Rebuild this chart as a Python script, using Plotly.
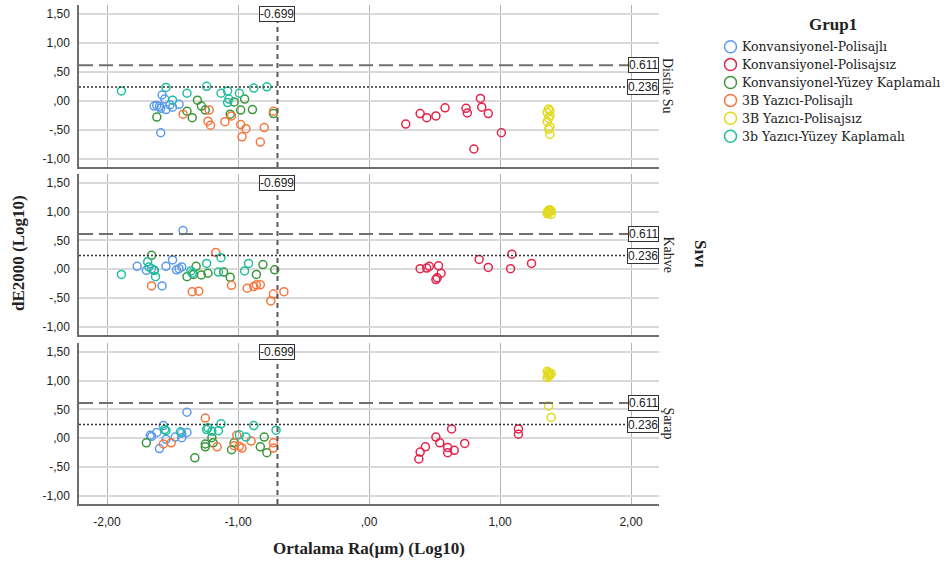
import plotly.graph_objects as go

# Liquids (facet rows) and groups
sivilar = ["Distile Su", "Kahve", "Şarap"]
gruplar = [
    "Konvansiyonel-Polisajlı",
    "Konvansiyonel-Polisajsız",
    "Konvansiyonel-Yüzey Kaplamalı",
    "3B Yazıcı-Polisajlı",
    "3B Yazıcı-Polisajsız",
    "3b Yazıcı-Yüzey Kaplamalı",
]
renkler = ["#5b9bec", "#e4234a", "#3a973a", "#f4773f", "#e2da20", "#1fbf9f"]

# Konvansiyonel-Polisajlı
kp_ra = {
    "Distile Su": [-1.64, -1.62, -1.60, -1.59, -1.58, -1.56, -1.55, -1.52, -1.50, -1.45, -1.59],
    "Kahve": [-1.77, -1.70, -1.55, -1.50, -1.47, -1.45, -1.43, -1.58, -1.42, -1.66],
    "Şarap": [-1.39, -1.57, -1.67, -1.66, -1.62, -1.60, -1.48, -1.43, -1.43, -1.39, -1.55],
}
kp_de = {
    "Distile Su": [-0.09, -0.08, -0.10, -0.13, 0.10, 0.03, -0.15, -0.07, -0.11, -0.06, -0.55],
    "Kahve": [0.05, -0.02, 0.05, 0.16, -0.01, 0.01, 0.04, -0.29, 0.67, 0.01],
    "Şarap": [0.45, 0.22, 0.05, 0.03, 0.10, -0.18, 0.02, 0.01, 0.09, 0.10, -0.02],
}

# Konvansiyonel-Polisajsız
kps_ra = {
    "Distile Su": [0.28, 0.39, 0.44, 0.51, 0.58, 0.74, 0.75, 0.85, 0.86, 0.91, 1.01, 0.80],
    "Kahve": [0.39, 0.44, 0.46, 0.53, 0.55, 0.51, 0.52, 0.84, 0.91, 1.08, 1.09, 1.24],
    "Şarap": [0.38, 0.39, 0.43, 0.51, 0.54, 0.60, 0.60, 0.65, 0.63, 0.73, 1.14, 1.14],
}
kps_de = {
    "Distile Su": [-0.40, -0.22, -0.29, -0.26, -0.12, -0.13, -0.21, 0.04, -0.11, -0.22, -0.55, -0.83],
    "Kahve": [0.01, 0.02, 0.05, 0.06, -0.07, -0.18, -0.15, 0.17, 0.03, 0.01, 0.26, 0.10],
    "Şarap": [-0.36, -0.24, -0.15, 0.02, -0.08, -0.16, -0.25, -0.21, 0.16, -0.09, 0.16, 0.07],
}

# Konvansiyonel-Yüzey Kaplamalı
kyk_ra = {
    "Distile Su": [-1.62, -1.39, -1.35, -1.31, -1.28, -1.25, -1.06, -1.03, -0.95, -0.98, -0.89, -0.73],
    "Kahve": [-1.66, -1.64, -1.39, -1.32, -1.34, -1.28, -1.23, -1.11, -1.06, -0.86, -0.81, -0.72],
    "Şarap": [-1.70, -1.33, -1.25, -1.25, -1.20, -1.19, -1.05, -1.03, -0.83, -0.80, -0.78],
}
kyk_de = {
    "Distile Su": [-0.28, -0.18, -0.29, 0.01, -0.09, -0.16, -0.23, -0.02, 0.03, -0.16, -0.15, -0.22],
    "Kahve": [0.24, -0.02, -0.13, 0.05, -0.09, -0.10, -0.07, -0.05, -0.14, -0.09, 0.08, -0.01],
    "Şarap": [-0.08, -0.34, -0.10, -0.15, 0.01, -0.08, -0.20, -0.08, -0.15, 0.02, -0.25],
}

# 3B Yazıcı-Polisajlı
yp_ra = {
    "Distile Su": [-1.42, -1.22, -1.23, -1.21, -1.10, -1.05, -0.98, -0.94, -0.97, -0.80, -0.83, -0.73],
    "Kahve": [-1.66, -1.35, -1.30, -1.17, -1.05, -0.93, -0.88, -0.86, -0.83, -0.73, -0.75, -0.65],
    "Şarap": [-1.57, -1.51, -1.25, -1.16, -1.03, -0.99, -0.97, -1.01, -0.90, -0.73, -0.73],
}
yp_de = {
    "Distile Su": [-0.23, -0.16, -0.35, -0.42, -0.36, -0.26, -0.41, -0.48, -0.62, -0.46, -0.71, -0.18],
    "Kahve": [-0.29, -0.39, -0.38, 0.29, -0.28, -0.33, -0.30, -0.27, -0.27, -0.43, -0.55, -0.39],
    "Şarap": [-0.10, -0.08, 0.35, -0.15, -0.13, -0.14, -0.17, 0.05, -0.05, -0.08, -0.17],
}

# 3B Yazıcı-Polisajsız
yps_ra = {
    "Distile Su": [1.37, 1.38, 1.36, 1.38, 1.37, 1.36, 1.38, 1.37, 1.38],
    "Kahve": [1.36, 1.37, 1.38, 1.39, 1.37, 1.36, 1.38, 1.37, 1.38, 1.39],
    "Şarap": [1.36, 1.37, 1.38, 1.39, 1.37, 1.36, 1.38, 1.37, 1.37, 1.39],
}
yps_de = {
    "Distile Su": [-0.14, -0.17, -0.20, -0.26, -0.30, -0.36, -0.45, -0.49, -0.58],
    "Kahve": [0.96, 0.98, 1.00, 1.01, 1.02, 0.99, 1.03, 0.97, 1.00, 0.95],
    "Şarap": [1.05, 1.08, 1.10, 1.12, 1.14, 1.16, 1.09, 1.11, 0.56, 0.36],
}

# 3b Yazıcı-Yüzey Kaplamalı
yyk_ra = {
    "Distile Su": [-1.89, -1.55, -1.50, -1.39, -1.24, -1.13, -1.08, -1.07, -1.08, -0.99, -0.88, -0.78],
    "Kahve": [-1.89, -1.69, -1.68, -1.64, -1.63, -1.36, -1.24, -1.13, -1.15, -0.95, -0.92, -1.35],
    "Şarap": [-1.56, -1.55, -1.24, -1.23, -1.20, -1.15, -1.13, -0.99, -0.94, -0.88, -0.71, -1.44],
}
yyk_de = {
    "Distile Su": [0.17, 0.23, 0.01, 0.13, 0.25, 0.13, 0.17, 0.03, -0.03, 0.13, 0.22, 0.24],
    "Kahve": [-0.09, 0.13, 0.04, -0.02, -0.13, -0.03, 0.10, 0.20, -0.05, -0.03, 0.10, -0.07],
    "Şarap": [0.15, 0.13, 0.15, 0.18, 0.12, 0.13, 0.25, 0.06, 0.02, 0.22, 0.14, 0.11],
}

grup_ra = [kp_ra, kps_ra, kyk_ra, yp_ra, yps_ra, yyk_ra]
grup_de = [kp_de, kps_de, kyk_de, yp_de, yps_de, yyk_de]

# Reference lines
ra_ref = -0.699
de_ref_hi = 0.611
de_ref_lo = 0.236

x_ticks = [-2, -1, 0, 1, 2]
x_ticktext = ["-2,00", "-1,00", ",00", "1,00", "2,00"]
y_ticks = [-1.0, -0.5, 0.0, 0.5, 1.0, 1.5]
y_ticktext = ["-1,00", "-,50", ",00", ",50", "1,00", "1,50"]

W, H = 946, 562
ML, MR, MT, MB = 79, 287, 5, 58
PW, PH = W - ML - MR, H - MT - MB


def px_x(p):
    return (p - ML) / PW


def px_y(p):
    return (H - MB - p) / PH


# panel pixel extents (top, bottom)
panel_px = [(5, 167), (174, 335), (343, 504)]
domains = [[px_y(b), px_y(t)] for t, b in panel_px]

SANS = "Liberation Sans, Arial, sans-serif"
SERIF = "Liberation Serif, Times New Roman, serif"


def text_at(text, x, y, size, family=SERIF, angle=0, xanchor="center"):
    return dict(text=text, xref="paper", yref="paper", x=px_x(x), y=px_y(y),
                textangle=angle, showarrow=False, xanchor=xanchor, yanchor="middle",
                font=dict(family=family, size=size, color="#222"))


fig = go.Figure()

for gi, grup in enumerate(gruplar):
    for pi, sivi in enumerate(sivilar):
        sfx = "" if pi == 0 else str(pi + 1)
        fig.add_trace(go.Scatter(
            x=grup_ra[gi][sivi], y=grup_de[gi][sivi],
            mode="markers", name=grup, showlegend=False,
            xaxis="x" + sfx, yaxis="y" + sfx,
            marker=dict(symbol="circle-open", size=8, color=renkler[gi],
                        line=dict(width=1.5, color=renkler[gi])),
        ))

layout = dict(
    width=W, height=H,
    margin=dict(l=ML, r=MR, t=MT, b=MB),
    paper_bgcolor="white", plot_bgcolor="white",
    showlegend=False,
)

shapes = []
annotations = []
for pi in range(3):
    sfx = "" if pi == 0 else str(pi + 1)
    xa = dict(
        domain=[0, 1], range=[-2.214, 2.213], anchor="y" + sfx,
        tickvals=x_ticks, ticktext=x_ticktext,
        showticklabels=(pi == 2),
        showgrid=True, gridcolor="#b5b5b5", gridwidth=1,
        zeroline=False, showline=True, linecolor="#6e6e6e", linewidth=1.5,
        ticks="outside", ticklen=6, tickcolor="rgba(0,0,0,0)",
        tickfont=dict(family=SANS, size=12, color="#222"),
    )
    if pi > 0:
        xa["matches"] = "x"
    ya = dict(
        domain=domains[pi], range=[-1.14, 1.65], anchor="x" + sfx,
        tickvals=y_ticks, ticktext=y_ticktext,
        showgrid=True, gridcolor="#d9d9d9", gridwidth=2,
        zeroline=False, showline=True, linecolor="#6e6e6e", linewidth=1.5,
        ticks="outside", ticklen=5, tickcolor="rgba(0,0,0,0)",
        tickfont=dict(family=SANS, size=12, color="#222"),
    )
    layout["xaxis" + sfx] = xa
    layout["yaxis" + sfx] = ya

    xr, yr = "x" + sfx, "y" + sfx
    shapes.append(dict(type="line", xref=xr, yref=yr + " domain",
                       x0=ra_ref, x1=ra_ref, y0=0, y1=1,
                       line=dict(color="#5a5a5a", width=2, dash="5px,4px")))
    shapes.append(dict(type="line", xref=xr + " domain", yref=yr,
                       x0=0, x1=1, y0=de_ref_hi, y1=de_ref_hi,
                       line=dict(color="#707070", width=2, dash="14px,6px")))
    shapes.append(dict(type="line", xref=xr + " domain", yref=yr,
                       x0=0, x1=1, y0=de_ref_lo, y1=de_ref_lo,
                       line=dict(color="#333333", width=1.5, dash="2px,2px")))

    box = dict(bordercolor="#333", borderwidth=1, borderpad=0, bgcolor="white",
               showarrow=False, font=dict(family=SANS, size=12, color="#222"))
    annotations.append(dict(box, text=f"{ra_ref:.3f}", xref=xr, yref=yr,
                            x=ra_ref, y=1.5, xanchor="center", yanchor="middle"))
    annotations.append(dict(box, text=f"{de_ref_hi:.3f}", xref=xr + " domain", yref=yr,
                            x=1, y=de_ref_hi, xanchor="right", yanchor="middle"))
    annotations.append(dict(box, text=f"{de_ref_lo:.3f}", xref=xr + " domain", yref=yr,
                            x=1, y=de_ref_lo, xanchor="right", yanchor="middle"))

    # facet label on the right
    t, b = panel_px[pi]
    annotations.append(text_at(sivilar[pi], 668, (t + b) / 2, 14, angle=90))

# row-variable title
annotations.append(text_at("<b>Sıvı</b>", 701, 254, 17, angle=90))
# axis titles
annotations.append(text_at("<b>dE2000 (Log10)</b>", 18, 253, 17, angle=-90))
annotations.append(text_at("<b>Ortalama Ra(µm) (Log10)</b>", 369, 548, 17))

# group key
annotations.append(text_at("<b>Grup1</b>", 833, 24, 17))
for gi, grup in enumerate(gruplar):
    cy = 46.7 + 17.9 * gi
    shapes.append(dict(type="circle", xref="paper", yref="paper",
                       xsizemode="pixel", ysizemode="pixel",
                       xanchor=px_x(730.5), yanchor=px_y(cy),
                       x0=-6, x1=6, y0=-6, y1=6,
                       line=dict(color=renkler[gi], width=1.5)))
    annotations.append(text_at(grup, 740, cy, 12.5, family="DejaVu Serif, serif",
                               xanchor="left"))

layout["shapes"] = shapes
layout["annotations"] = annotations
fig.update_layout(**layout)

fig.write_html("out.html")
